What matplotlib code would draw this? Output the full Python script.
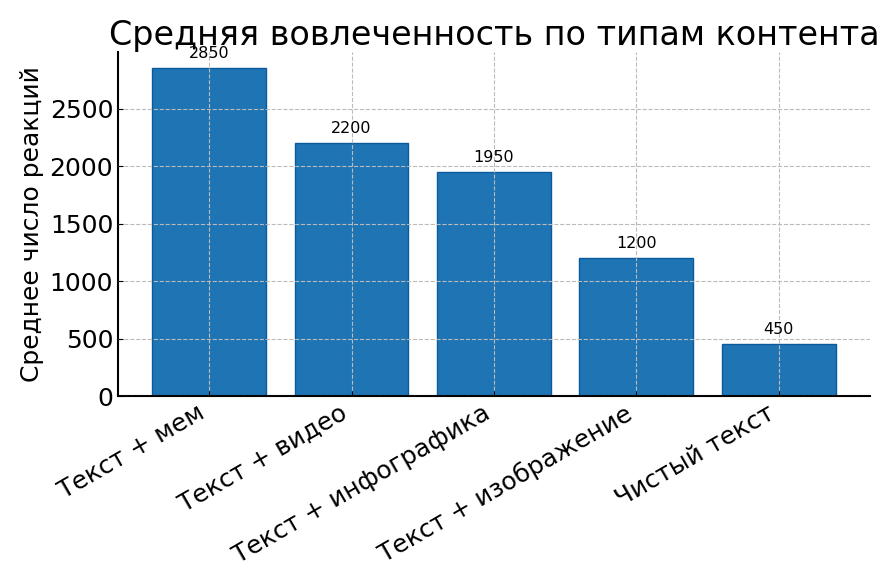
import matplotlib.pyplot as plt

# Data
categories = ['Текст + мем', 'Текст + видео', 'Текст + инфографика',
              'Текст + изображение', 'Чистый текст']
values = [2850, 2200, 1950, 1200, 450]

fig = plt.figure(figsize=(8.94, 5.85), dpi=100)
ax = fig.add_axes([0.132, 0.323, 0.841, 0.588])

bars = ax.bar(categories, values, width=0.8, color='#1f74b4',
              edgecolor='#0b5a9c', linewidth=1.0, zorder=2)

for b, v in zip(bars, values):
    ax.text(b.get_x() + b.get_width() / 2, v + 60, str(v),
            ha='center', va='bottom', fontsize=11.5)

ax.set_ylim(0, 2992)
ax.set_title('Средняя вовлеченность по типам контента', fontsize=24, pad=4)
ax.set_ylabel('Среднее число реакций', fontsize=18, labelpad=4)
ax.tick_params(axis='both', direction='in', labelsize=18)
plt.setp(ax.get_xticklabels(), rotation=30, ha='right')

ax.grid(True, linestyle='--', color='#bbbbbb', linewidth=0.8, zorder=3)
ax.set_axisbelow(False)
for s in ['top', 'right']:
    ax.spines[s].set_visible(False)
ax.spines['left'].set_linewidth(1.5)
ax.spines['bottom'].set_linewidth(1.5)

fig.savefig('out.png', dpi=100)
